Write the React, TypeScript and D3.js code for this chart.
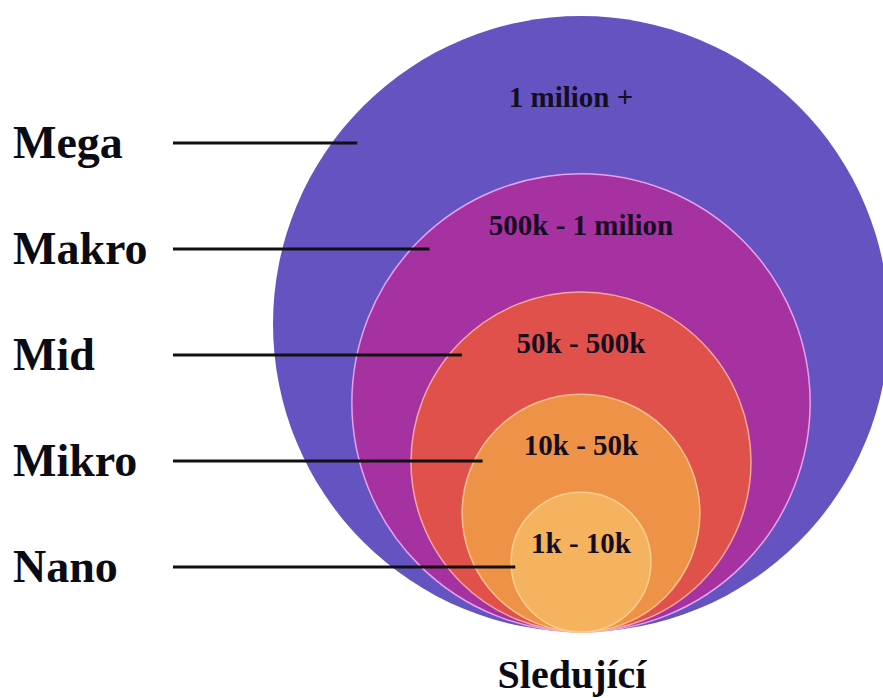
import React from "react";
import * as d3 from "d3";

const tiers = ["Mega", "Makro", "Mid", "Mikro", "Nano"];
const ranges = ["1 milion +", "500k - 1 milion", "50k - 500k", "10k - 50k", "1k - 10k"];
const sizes = [100, 74.4, 55.2, 38.6, 22.7];
const fills = ["#6453c1", "#a631a0", "#e0514b", "#ee9247", "#f5b25f"];
const strokes = ["none", "#e7a2ee", "#f6a6a0", "#f9c08c", "#fad08e"];
const axisTitle = "Sledující";

const W = 883;
const H = 698;
const CX = 581;
const BOTTOM = 632;

export default function App() {
  const r = d3.scaleLinear().domain([0, 100]).range([0, 308]);
  const rowY = d3.scalePoint<string>().domain(tiers).range([143, 567]);
  const circles = tiers.map((t, i) => {
    const rad = r(sizes[i]);
    return { t, i, rad, cy: BOTTOM - rad, top: BOTTOM - 2 * rad };
  });
  const rMin = r(sizes[sizes.length - 1]);
  const font = "'Liberation Serif', 'Times New Roman', serif";
  return (
    <svg width={W} height={H} style={{ position: "absolute", left: 0, top: 0, background: "#fff" }}>
      {circles.map((c) => (
        <circle
          key={c.t}
          cx={CX}
          cy={c.cy}
          r={c.rad}
          fill={fills[c.i]}
          stroke={strokes[c.i]}
          strokeWidth={1.5}
        />
      ))}
      {circles.map((c, i) => {
        const next = circles[i + 1];
        const y = i === 0 && next ? (c.top + next.top) / 2 + 2 : c.top + 51;
        return (
          <text
            key={"r" + c.t}
            x={CX - (i === 0 ? 10 : 0)}
            y={y}
            dy="0.35em"
            textAnchor="middle"
            fontFamily={font}
            fontWeight="bold"
            fontSize={29}
            fill="#150d22"
          >
            {ranges[i]}
          </text>
        );
      })}
      {circles.map((c) => {
        const y = rowY(c.t)!;
        const dy = y - c.cy;
        const half = Math.sqrt(Math.max(0, c.rad * c.rad - dy * dy));
        const x2 = CX - half + 4 + 0.09 * (c.rad - rMin);
        return (
          <g key={"l" + c.t}>
            <line x1={173} x2={x2} y1={y} y2={y} stroke="#111" strokeWidth={3} />
            <text
              x={13}
              y={y + 15}
              fontFamily={font}
              fontWeight="bold"
              fontSize={46}
              fill="#0b0b14"
            >
              {c.t}
            </text>
          </g>
        );
      })}
      <text
        x={572}
        y={688}
        textAnchor="middle"
        fontFamily={font}
        fontWeight="bold"
        fontSize={40}
        fill="#0b0b14"
      >
        {axisTitle}
      </text>
    </svg>
  );
}
